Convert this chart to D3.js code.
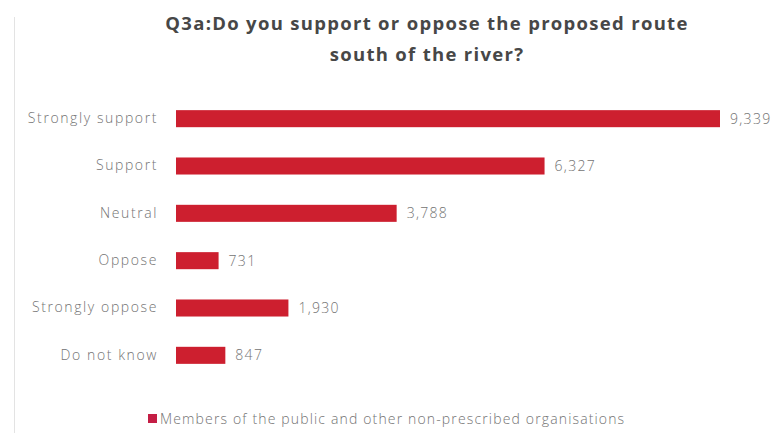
<!DOCTYPE html>
<html>
<head>
<meta charset="utf-8">
<script src="https://cdn.jsdelivr.net/npm/d3@7"></script>
<style>
  html, body { margin: 0; padding: 0; background: #ffffff; }
  svg { display: block; }
</style>
</head>
<body>
<svg id="chart" width="773" height="433"></svg>
<script>
// Responses to Q3a, members of the public and other non-prescribed organisations
const categories = ["Strongly support", "Support", "Neutral", "Oppose", "Strongly oppose", "Do not know"];
const counts = [9339, 6327, 3788, 731, 1930, 847];
const titleLines = ["Q3a:Do you support or oppose the proposed route", "south of the river?"];
const seriesName = "Members of the public and other non-prescribed organisations";

const width = 773, height = 433;
const svg = d3.select("#chart");

const labelFont = "'Open Sans', sans-serif";
const labelColor = "#737373";

// faint frame edge on the left
svg.append("line")
  .attr("x1", 14.5).attr("x2", 14.5)
  .attr("y1", 17).attr("y2", height)
  .attr("stroke", "#e3e3e3").attr("stroke-width", 1);

// title
const title = svg.append("text")
  .attr("text-anchor", "middle")
  .attr("font-family", labelFont)
  .attr("font-weight", 700)
  .attr("font-size", 18.5)
  .attr("letter-spacing", 1.3)
  .attr("fill", "#474747");
titleLines.forEach((t, i) => {
  title.append("tspan")
    .attr("x", 427)
    .attr("y", 30 + i * 31)
    .text(t);
});

const x = d3.scaleLinear().domain([0, 9339]).range([176, 720]);
const y = d3.scaleBand().domain(categories).range([95, 379]).paddingInner(0.64).paddingOuter(0.32);

const barColor = "#cd1f2f";

// category axis, labels only
const yAxis = svg.append("g")
  .attr("transform", "translate(176,0)")
  .call(d3.axisLeft(y).tickSize(0).tickPadding(18));
yAxis.select(".domain").remove();
yAxis.selectAll("text")
  .attr("font-family", labelFont)
  .attr("font-weight", 300)
  .attr("font-size", 14)
  .attr("letter-spacing", 1.6)
  .attr("fill", labelColor);

// bars
svg.append("g").selectAll("rect")
  .data(counts)
  .join("rect")
  .attr("x", x(0))
  .attr("y", (d, i) => y(categories[i]))
  .attr("width", d => x(d) - x(0))
  .attr("height", y.bandwidth())
  .attr("fill", barColor);

// value labels
svg.append("g").selectAll("text")
  .data(counts)
  .join("text")
  .attr("x", d => x(d) + 10)
  .attr("y", (d, i) => y(categories[i]) + y.bandwidth() / 2)
  .attr("dy", "0.35em")
  .attr("font-family", labelFont)
  .attr("font-weight", 300)
  .attr("font-size", 14)
  .attr("letter-spacing", 1.3)
  .attr("fill", labelColor)
  .text(d => d3.format(",")(d));

// legend
const legend = svg.append("g").attr("transform", "translate(148,414)");
legend.append("rect")
  .attr("width", 9).attr("height", 9)
  .attr("fill", "#c41e45");
legend.append("text")
  .attr("x", 12)
  .attr("y", 9.5)
  .attr("font-family", labelFont)
  .attr("font-weight", 300)
  .attr("font-size", 14)
  .attr("letter-spacing", 1.15)
  .attr("fill", labelColor)
  .text(seriesName);
</script>
</body>
</html>
